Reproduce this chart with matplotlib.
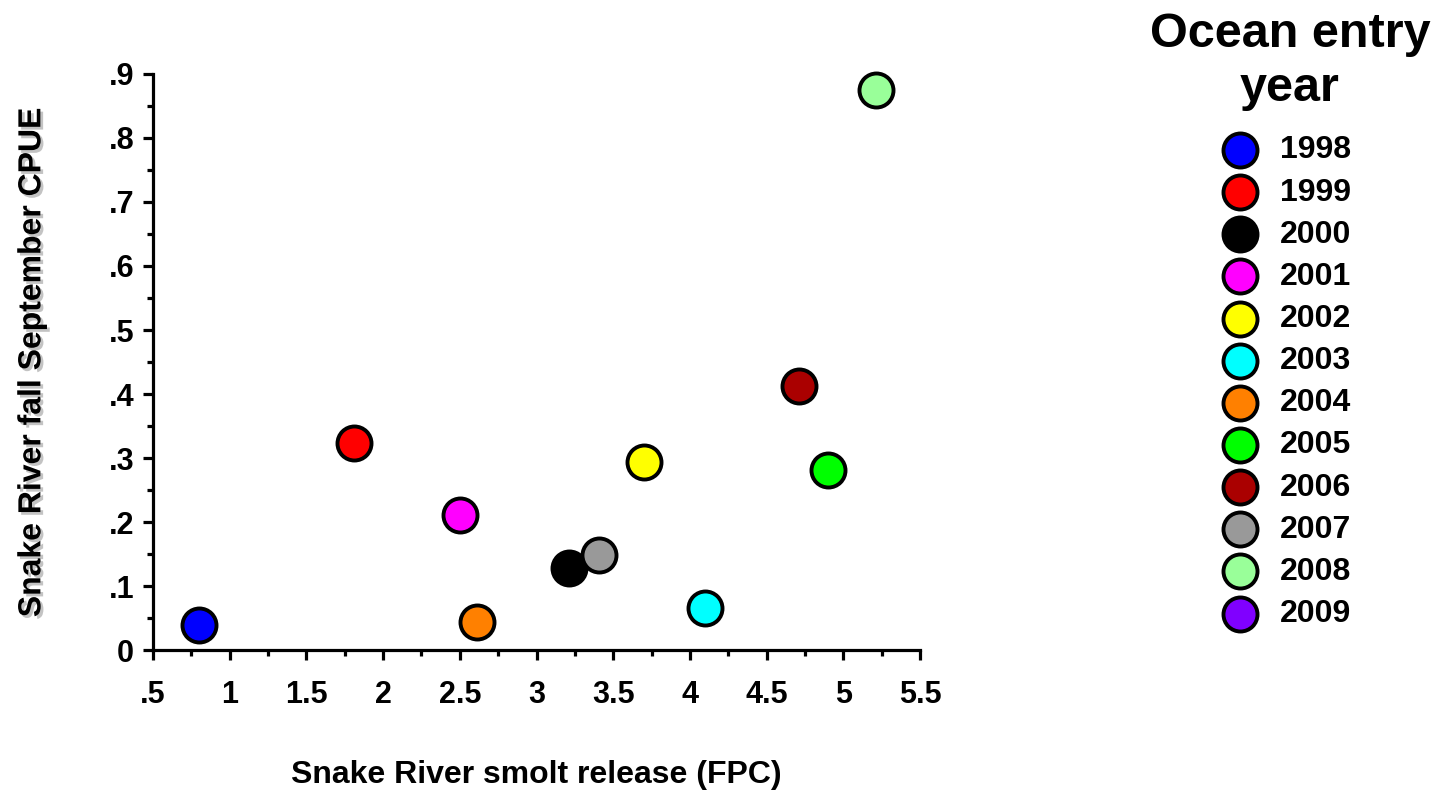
import numpy as np
from matplotlib import pyplot as plt
from matplotlib import patheffects as pe
from matplotlib.ticker import MultipleLocator, FuncFormatter

plt.rcParams['font.family'] = ['Liberation Sans', 'DejaVu Sans']
plt.rcParams['font.weight'] = 'bold'

# Data
years = ['1998', '1999', '2000', '2001', '2002', '2003',
         '2004', '2005', '2006', '2007', '2008', '2009']
smolt = [0.80, 1.81, 3.21, 2.50, 3.70, 4.10, 2.61, 4.90, 4.71, 3.41, 5.21, np.nan]
cpue = [0.040, 0.324, 0.128, 0.211, 0.294, 0.066, 0.044, 0.282, 0.412, 0.149, 0.875, np.nan]
colors = ['#0000FF', '#FF0000', '#000000', '#FF00FF', '#FFFF00', '#00FFFF',
          '#FF8000', '#00FF00', '#AA0000', '#999999', '#99FF99', '#8000FF']


def fmt(v, pos):
    s = f"{v:.1f}".rstrip('0').rstrip('.')
    if s.startswith('0.'):
        s = s[1:]
    return s


fig = plt.figure(figsize=(14.43, 7.91), dpi=100)
ax = fig.add_axes([0.106, 0.178, 0.5316, 0.7286])

for x, y, c, yr in zip(smolt, cpue, colors, years):
    ax.scatter([x], [y], s=600, c=c, edgecolors='black', linewidths=2.8,
               label=yr, zorder=3, clip_on=False)

ax.set_xlim(0.5, 5.5)
ax.set_ylim(0, 0.9)
ax.xaxis.set_major_locator(MultipleLocator(0.5))
ax.xaxis.set_minor_locator(MultipleLocator(0.25))
ax.yaxis.set_major_locator(MultipleLocator(0.1))
ax.yaxis.set_minor_locator(MultipleLocator(0.05))
ax.xaxis.set_major_formatter(FuncFormatter(fmt))
ax.yaxis.set_major_formatter(FuncFormatter(fmt))

ax.spines['top'].set_visible(False)
ax.spines['right'].set_visible(False)
for s in ['left', 'bottom']:
    ax.spines[s].set_linewidth(2.3)

ax.tick_params(which='major', direction='out', length=7.5, width=2.3, labelsize=22)
ax.tick_params(which='minor', direction='out', length=4, width=2.3)
ax.tick_params(axis='x', which='major', pad=14)
ax.tick_params(axis='y', which='major', pad=6)

ax.set_xlabel('Snake River smolt release (FPC)', fontsize=23, fontweight='bold', labelpad=36)
yl = ax.set_ylabel('Snake River fall September CPUE', fontsize=23, fontweight='bold', labelpad=44)
yl.set_path_effects([pe.withSimplePatchShadow(offset=(2, -2), shadow_rgbFace='#888888', alpha=0.5)])

fig.text(0.894, 0.985, 'Ocean entry\nyear', fontsize=35, fontweight='bold',
         ha='center', va='top', linespacing=1.25)

leg = fig.legend(loc='upper left', bbox_to_anchor=(0.826, 0.849), frameon=False,
                 fontsize=23, labelspacing=0.38, handletextpad=0.25, scatterpoints=1,
                 borderpad=0)
for t in leg.get_texts():
    t.set_fontweight('bold')

plt.savefig('out.png', dpi=100)
